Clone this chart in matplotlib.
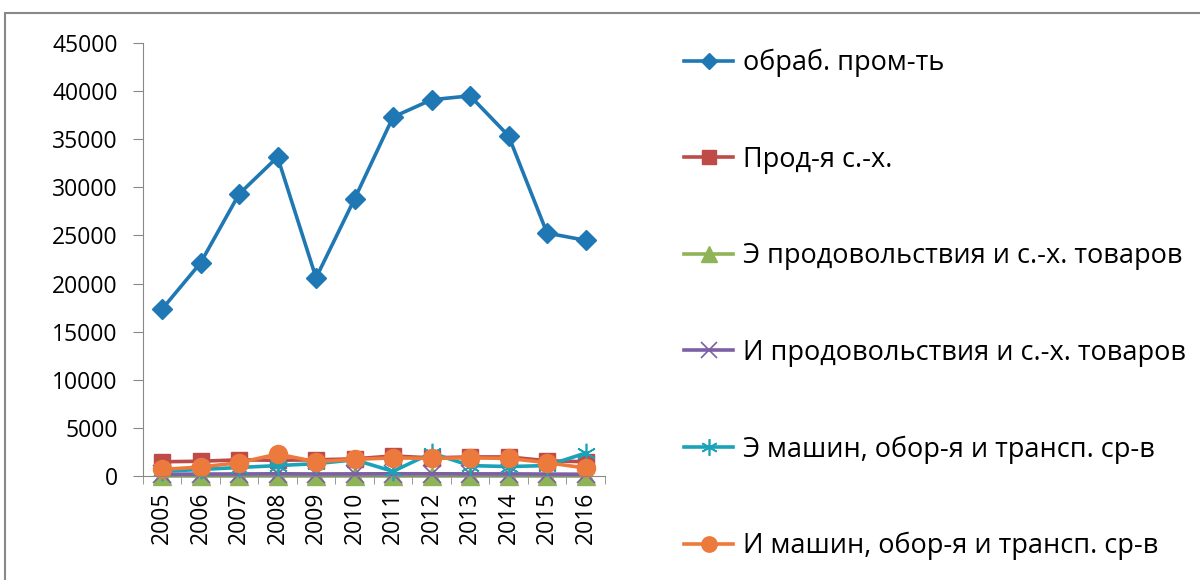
import numpy as np
import matplotlib.pyplot as plt
from matplotlib.patches import Rectangle

plt.rcParams['font.family'] = ['Open Sans', 'DejaVu Sans']

# data
years = ['2005', '2006', '2007', '2008', '2009', '2010',
         '2011', '2012', '2013', '2014', '2015', '2016']
obrab = [17350, 22150, 29300, 33150, 20600, 28800, 37300, 39100, 39500, 35350, 25250, 24500]
prod_sh = [1500, 1550, 1700, 1650, 1700, 1800, 2100, 1900, 2000, 2000, 1600, 1500]
exp_prod = [20, 20, 20, 20, 20, 20, 20, 20, 20, 20, 20, 20]
imp_prod = [200, 220, 230, 250, 230, 240, 250, 250, 240, 240, 220, 200]
exp_mash = [500, 700, 900, 1100, 1300, 1700, 500, 2400, 1100, 1000, 1100, 2400]
imp_mash = [700, 950, 1400, 2300, 1500, 1750, 1900, 1850, 1900, 1850, 1400, 850]

labels = ['обраб. пром-ть', 'Прод-я с.-х.', 'Э продовольствия и с.-х. товаров',
          'И продовольствия и с.-х. товаров', 'Э машин, обор-я и трансп. ср-в',
          'И машин, обор-я и трансп. ср-в']

x = np.arange(len(years))

fig = plt.figure(figsize=(12, 5.8), dpi=100)
ax = fig.add_axes([0.119, 0.179, 0.385, 0.747])

kw = dict(lw=2.6, clip_on=False)
ax.plot(x, obrab, color='#1f78b4', marker='D', ms=10, label=labels[0], **kw)
ax.plot(x, prod_sh, color='#be4b48', marker='s', ms=12, label=labels[1], **kw)
ax.plot(x, exp_prod, color='#8fb357', marker='^', ms=13, label=labels[2], **kw)
ax.plot(x, imp_prod, color='#7d5fa5', marker='x', ms=13, mew=1.2, label=labels[3], **kw)
ax.plot(x, exp_mash, color='#1aa3b8', marker=(6, 2, 0), ms=14, mew=1.2, label=labels[4], **kw)
ax.plot(x, imp_mash, color='#ec7a3c', marker='o', ms=13, label=labels[5], **kw)

ax.set_xlim(-0.5, len(years) - 0.5)
ax.set_ylim(0, 45000)
ax.set_yticks(np.arange(0, 45001, 5000))
ax.set_xticks(x)
ax.set_xticklabels(years, rotation=90, fontsize=16.5)
ax.set_xticks(np.arange(-0.5, len(years), 1), minor=True)
ax.tick_params(axis='x', which='major', length=0, pad=11)
ax.tick_params(axis='x', which='minor', length=6, color='#888888')
ax.tick_params(axis='y', length=7, color='#888888', labelsize=16.5, pad=11)
for s in ['top', 'right']:
    ax.spines[s].set_visible(False)
for s in ['left', 'bottom']:
    ax.spines[s].set_color('#888888')

fig.legend(loc='upper left', bbox_to_anchor=(0.55, 0.958), frameon=False,
           fontsize=19.5, labelspacing=2.53, handlelength=1.8, handletextpad=0.35,
           markerscale=0.85)

fig.patches.append(Rectangle((0.004, -0.01), 1.1, 0.988, transform=fig.transFigure,
                             fill=False, edgecolor='#888888', lw=1.5))

fig.savefig('out.png', dpi=100)
